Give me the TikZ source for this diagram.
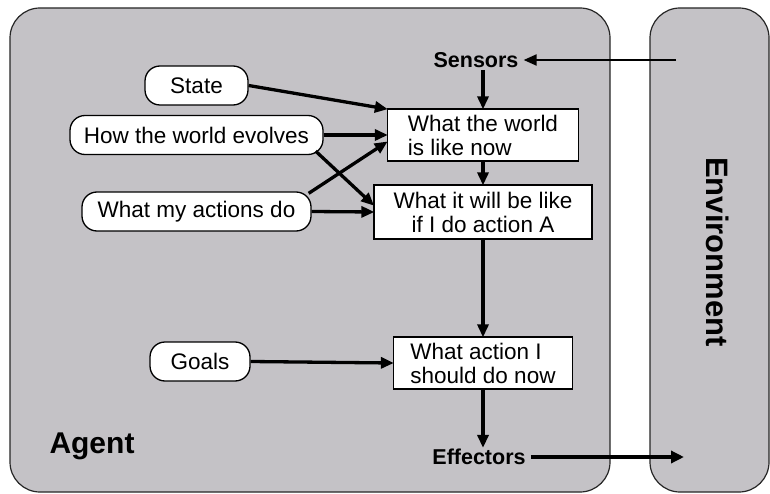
\documentclass[tikz,border=0pt]{standalone}
\usepackage{fontspec}
\setmainfont{Liberation Sans}
\usetikzlibrary{arrows.meta,calc}

\definecolor{panelgray}{RGB}{196,194,198}

\tikzset{
  panel/.style={draw=black!85, line width=1.2pt, fill=panelgray, rounded corners=30pt},
  infobox/.style={draw=black, line width=1.3pt, fill=white, inner sep=0pt,
    font=\fontsize{22.5}{24}\selectfont},
  knowledge/.style={draw=black, line width=1.3pt, fill=white, rounded corners=15pt,
    inner sep=0pt, minimum height=39pt, font=\fontsize{22.5}{24}\selectfont},
  portlabel/.style={font=\bfseries\fontsize{21.5}{24}\selectfont, inner xsep=5pt, inner ysep=2pt},
  flow/.style={line width=3.3pt, -{Triangle[length=13pt,width=11pt]}, shorten >=-1pt},
}

\begin{document}
\begin{tikzpicture}[x=1pt,y=-1pt]
  \useasboundingbox (0,0) rectangle (770,494);
  \clip (0,0) rectangle (770,494);

  % agent and environment panels
  \path[panel] (10,8) rectangle (610,492);
  \path[panel] (650,8) rectangle (769,492);
  \node[font=\bfseries\fontsize{30}{34}\selectfont] (agentlbl) at (92,446) {Agent};
  \node[font=\bfseries\fontsize{31}{34}\selectfont, rotate=-90] (envlbl) at (718,252) {Environment};

  % percept and action ports
  \node[portlabel] (sens) at (476,60) {Sensors};
  \node[portlabel] (eff) at (479,457) {Effectors};

  % reasoning boxes
  \node[infobox, minimum width=191pt, minimum height=52pt, align=left] (now) at (483,135)
    {What the world\\is like now};
  \node[infobox, minimum width=218pt, minimum height=54pt, align=center] (future) at (483,212)
    {What it will be like\\if I do action A};
  \node[infobox, minimum width=179pt, minimum height=52pt, align=left] (act) at (483,363)
    {What action I\\should do now};

  % internal knowledge
  \node[knowledge, minimum width=103pt] (state) at (196.5,85.5) {State};
  \node[knowledge, minimum width=253pt] (evolve) at (196.5,135) {How the world evolves};
  \node[knowledge, minimum width=229pt] (actions) at (196.5,211.5) {What my actions do};
  \node[knowledge, minimum width=100pt] (goals) at (200,361.5) {Goals};

  % environment contact points
  \coordinate (envin) at (676,60);
  \coordinate (envout) at (684,457);

  % connectors
  \draw[line width=2pt, -{Triangle[length=13pt,width=11pt]}] (envin) -- (sens.east);
  \draw[flow] (sens.south -| now.north) -- (now.north);
  \draw[flow] (now.south) -- (future.north);
  \draw[flow] (future.south) -- (act.north);
  \draw[flow] (act.south) -- (act.south |- eff.north);
  \draw[line width=4pt, -{Triangle[length=13pt,width=12pt]}] (eff.east) -- (envout);

  \draw[flow] (state.east) -- ([yshift=26pt]now.west);
  \draw[flow] (evolve.east) -- (now.west);
  \draw[flow] ([xshift=-8pt,yshift=4pt]evolve.south east) -- ([yshift=7pt]future.west);
  \draw[flow] ([xshift=-3pt,yshift=-2pt]actions.north east) -- ([yshift=-7pt]now.west);
  \draw[flow] (actions.east) -- (future.west);
  \draw[flow] (goals.east) -- (act.west);
\end{tikzpicture}
\end{document}
